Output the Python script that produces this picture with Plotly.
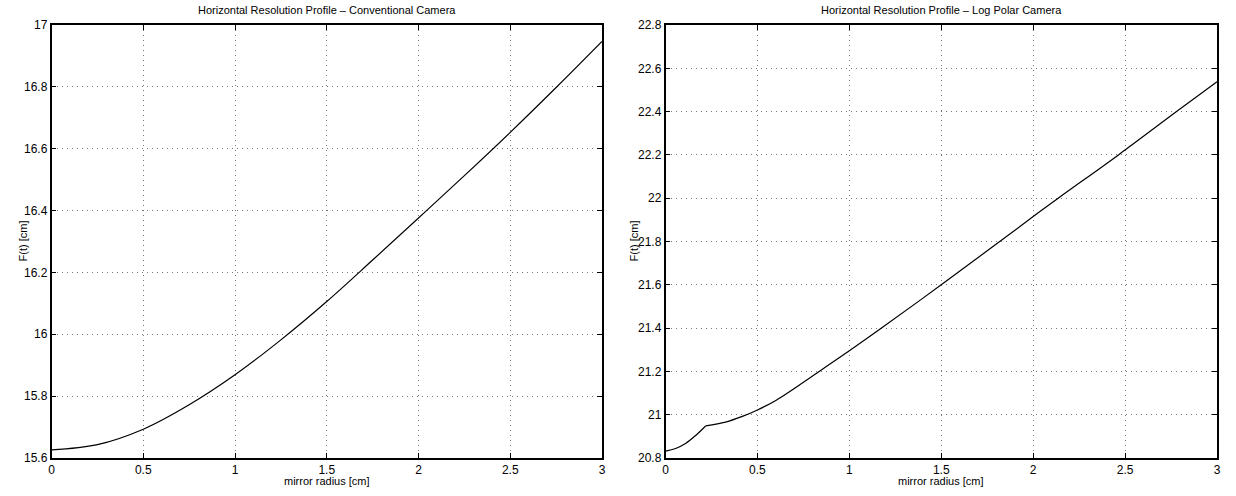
import plotly.graph_objects as go

# ---- data ----
conv_t = [0, 0.25, 0.5, 0.75, 1.0, 1.25, 1.5, 1.75, 2.0, 2.25, 2.5, 2.75, 3.0]
conv_f = [15.626, 15.643, 15.693, 15.772, 15.869, 15.982, 16.106, 16.240, 16.376,
          16.513, 16.653, 16.798, 16.947]

logp_t_low = [0, 0.055, 0.109, 0.164, 0.218]
logp_f_low = [20.832, 20.844, 20.867, 20.904, 20.948]
logp_t_high = [0.218, 0.327, 0.418, 0.5, 0.6, 0.836, 1.0, 1.175, 1.5, 1.818, 2.0,
               2.136, 2.464, 2.78, 3.0]
logp_f_high = [20.948, 20.966, 20.992, 21.022, 21.066, 21.2, 21.295, 21.4, 21.6, 21.8,
               21.915, 22.0, 22.2, 22.4, 22.538]

x_ticks = [0, 0.5, 1, 1.5, 2, 2.5, 3]
x_tick_text = ["0", "0.5", "1", "1.5", "2", "2.5", "3"]
conv_y_ticks = [15.6, 15.8, 16.0, 16.2, 16.4, 16.6, 16.8, 17.0]
conv_y_text = ["15.6", "15.8", "16", "16.2", "16.4", "16.6", "16.8", "17"]
logp_y_ticks = [20.8, 21.0, 21.2, 21.4, 21.6, 21.8, 22.0, 22.2, 22.4, 22.6, 22.8]
logp_y_text = ["20.8", "21", "21.2", "21.4", "21.6", "21.8", "22", "22.2", "22.4", "22.6", "22.8"]

title_left = "Horizontal Resolution Profile – Conventional Camera"
title_right = "Horizontal Resolution Profile – Log Polar Camera"
x_label = "mirror radius [cm]"
y_label = "F(t) [cm]"

W, H = 1236, 496
FONT = "Liberation Sans, Arial, Helvetica, sans-serif"

fig = go.Figure()
line = dict(color="black", width=1.2, shape="spline", smoothing=1.0)
fig.add_trace(go.Scatter(x=conv_t, y=conv_f, mode="lines", line=line,
                         xaxis="x", yaxis="y", showlegend=False, hoverinfo="x+y"))
fig.add_trace(go.Scatter(x=logp_t_low, y=logp_f_low, mode="lines", line=line,
                         xaxis="x2", yaxis="y2", showlegend=False, hoverinfo="x+y"))
fig.add_trace(go.Scatter(x=logp_t_high, y=logp_f_high, mode="lines", line=line,
                         xaxis="x2", yaxis="y2", showlegend=False, hoverinfo="x+y"))

ydom = [(H - 458) / H, (H - 25) / H]
xdom1 = [51.5 / W, 602 / W]
xdom2 = [665.5 / W, 1217 / W]

common_axis = dict(showline=True, linecolor="black", linewidth=1.5, mirror="allticks",
                   ticks="inside", ticklen=5, tickcolor="black", tickwidth=1,
                   showgrid=True, gridcolor="#777777", gridwidth=1, griddash="1px,4px",
                   zeroline=False, automargin=False,
                   tickfont=dict(family=FONT, size=12, color="black"))

fig.update_layout(
    width=W, height=H,
    margin=dict(l=0, r=0, t=0, b=0, autoexpand=False),
    paper_bgcolor="white", plot_bgcolor="white",
    font=dict(family=FONT, color="black"),
    xaxis=dict(domain=xdom1, range=[0, 3], tickvals=x_ticks, ticktext=x_tick_text,
               anchor="y", **common_axis),
    yaxis=dict(domain=ydom, range=[15.6, 17.0], tickvals=conv_y_ticks, ticktext=conv_y_text,
               anchor="x", **common_axis),
    xaxis2=dict(domain=xdom2, range=[0, 3], tickvals=x_ticks, ticktext=x_tick_text,
                anchor="y2", **common_axis),
    yaxis2=dict(domain=ydom, range=[20.8, 22.8], tickvals=logp_y_ticks, ticktext=logp_y_text,
                anchor="x2", **common_axis),
)

anns = []
for dom, title in [(xdom1, title_left), (xdom2, title_right)]:
    cx = (dom[0] + dom[1]) / 2
    anns.append(dict(text=title, x=cx, y=(H - 10) / H, xref="paper", yref="paper",
                     showarrow=False, xanchor="center", yanchor="middle",
                     font=dict(family=FONT, size=11, color="black")))
    anns.append(dict(text=x_label, x=cx, y=(H - 481) / H, xref="paper", yref="paper",
                     showarrow=False, xanchor="center", yanchor="middle",
                     font=dict(family=FONT, size=11, color="black")))
anns.append(dict(text=y_label, x=22 / W, y=(ydom[0] + ydom[1]) / 2, xref="paper", yref="paper",
                 showarrow=False, textangle=-90, xanchor="center", yanchor="middle",
                 font=dict(family=FONT, size=11, color="black")))
anns.append(dict(text=y_label, x=633 / W, y=(ydom[0] + ydom[1]) / 2, xref="paper", yref="paper",
                 showarrow=False, textangle=-90, xanchor="center", yanchor="middle",
                 font=dict(family=FONT, size=11, color="black")))
fig.update_layout(annotations=anns)

fig.write_html("out.html", config={"displayModeBar": False},
               post_script="document.body.style.margin='0';document.body.style.padding='0';")
